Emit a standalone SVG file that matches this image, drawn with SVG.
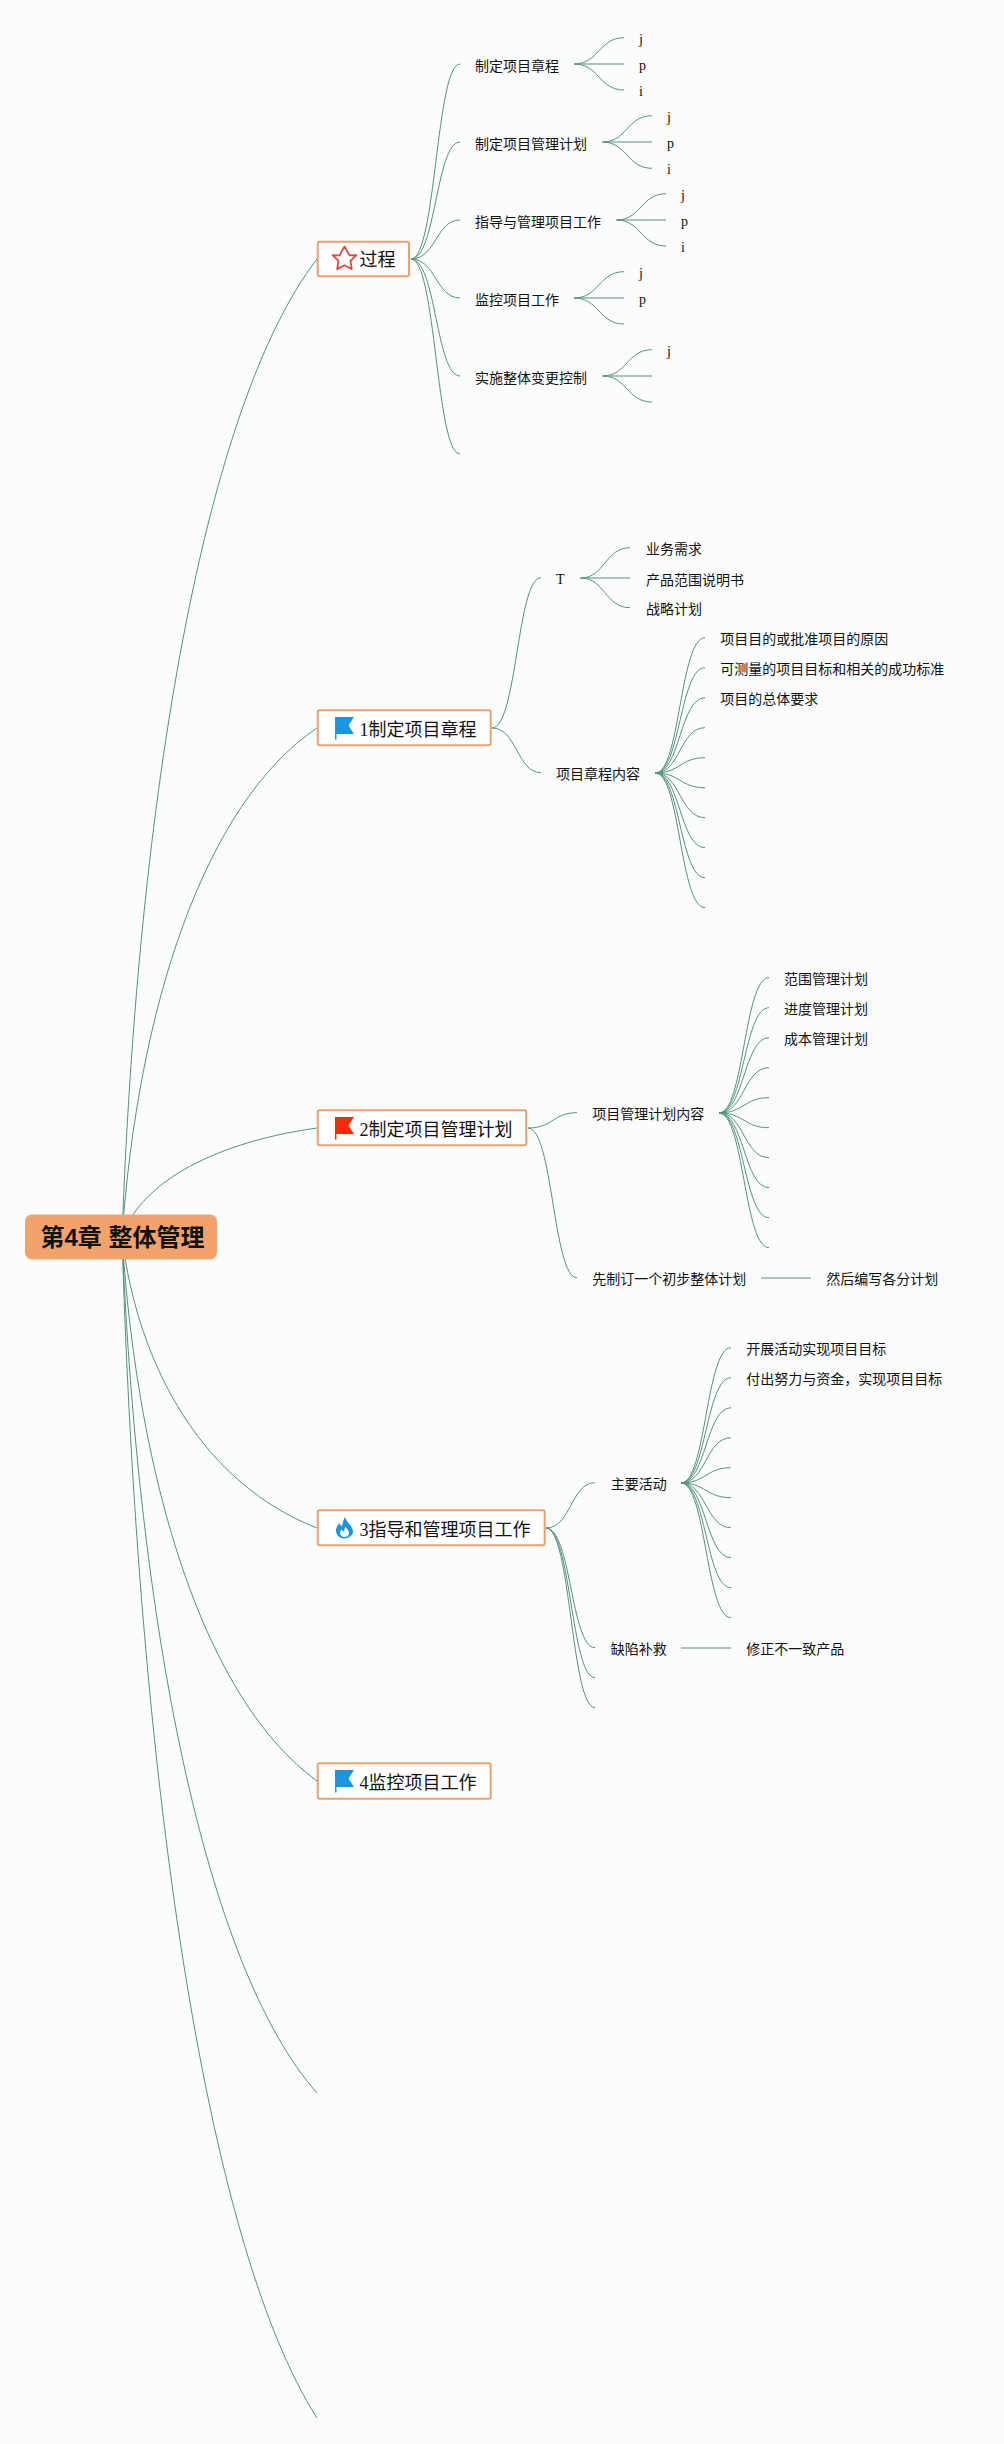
<svg xmlns="http://www.w3.org/2000/svg" width="1004" height="2444" viewBox="0 0 1004 2444">
<style>
.c{fill:none;stroke:#55917f;stroke-width:1}
.box{fill:#fff;stroke:#e6a274;stroke-width:2}
text{font-family:"Liberation Serif","Noto Sans CJK SC",sans-serif;fill:#111}
.t{font-size:14px}
.n{font-size:18px}
.r{font-family:"Liberation Sans","Noto Sans CJK SC",sans-serif;font-size:24px;font-weight:700}
.blue{fill:#1a95e0}
</style>
<defs><path id="flag" d="M0 0H19L13.5 8.500L19 17H1.500V22.500H0Z"/></defs>
<rect width="1004" height="2444" fill="#fbfcfc"/>
<g id="connectors" class="c">
<path d="M122 1237C138 797 204 406 317 259"/>
<path d="M122 1237C138 1008 204 804 317 728"/>
<path d="M122 1237C138 1188 204 1144 317 1128"/>
<path d="M122 1237C138 1368 204 1484 317 1528"/>
<path d="M122 1237C138 1482 204 1699 317 1781"/>
<path d="M122 1237C138 1622 204 1965 317 2093"/>
<path d="M122 1237C138 1768 204 2241 317 2418"/>
<path d="M411 259C436 259 436 64 460 64"/>
<path d="M411 259C436 259 436 142 460 142"/>
<path d="M411 259C436 259 436 220 460 220"/>
<path d="M411 259C436 259 436 298 460 298"/>
<path d="M411 259C436 259 436 376 460 376"/>
<path d="M411 259C436 259 436 454 460 454"/>
<path d="M574 64C599 64 599 37.700 624 37.700"/><path d="M574 64H624"/><path d="M574 64C599 64 599 90 624 90"/>
<path d="M602.500 142C627 142 627 115.700 652 115.700"/><path d="M602.500 142H652"/><path d="M602.500 142C627 142 627 168.300 652 168.300"/>
<path d="M616.500 220C641 220 641 193.700 666 193.700"/><path d="M616.500 220H666"/><path d="M616.500 220C641 220 641 246 666 246"/>
<path d="M574 298C599 298 599 271.700 624 271.700"/><path d="M574 298H624"/><path d="M574 298C599 298 599 324 624 324"/>
<path d="M602.500 376C627 376 627 349.700 652 349.700"/><path d="M602.500 376H652"/><path d="M602.500 376C627 376 627 402 652 402"/>
<path d="M492 728C517 728 517 577.700 541 577.700"/>
<path d="M492 728C517 728 517 772.700 541 772.700"/>
<path d="M580.500 578C605 578 605 547.700 630 547.700"/><path d="M580.500 578H630"/><path d="M580.500 578C605 578 605 607.700 630 607.700"/>
<path d="M655.500 773C680 773 680 637.700 705 637.700"/>
<path d="M655.500 773C680 773 680 667.700 705 667.700"/>
<path d="M655.500 773C680 773 680 697.700 705 697.700"/>
<path d="M655.500 773C680 773 680 727.700 705 727.700"/>
<path d="M655.500 773C680 773 680 757.700 705 757.700"/>
<path d="M655.500 773C680 773 680 787.700 705 787.700"/>
<path d="M655.500 773C680 773 680 817.700 705 817.700"/>
<path d="M655.500 773C680 773 680 847.700 705 847.700"/>
<path d="M655.500 773C680 773 680 877.700 705 877.700"/>
<path d="M655.500 773C680 773 680 907.700 705 907.700"/>
<path d="M528 1128C553 1128 553 1112.700 577 1112.700"/>
<path d="M528 1128C553 1128 553 1277.700 577 1277.700"/>
<path d="M719 1113C744 1113 744 977.700 769 977.700"/>
<path d="M719 1113C744 1113 744 1007.700 769 1007.700"/>
<path d="M719 1113C744 1113 744 1037.700 769 1037.700"/>
<path d="M719 1113C744 1113 744 1067.700 769 1067.700"/>
<path d="M719 1113C744 1113 744 1097.700 769 1097.700"/>
<path d="M719 1113C744 1113 744 1127.700 769 1127.700"/>
<path d="M719 1113C744 1113 744 1157.700 769 1157.700"/>
<path d="M719 1113C744 1113 744 1187.700 769 1187.700"/>
<path d="M719 1113C744 1113 744 1217.700 769 1217.700"/>
<path d="M719 1113C744 1113 744 1247.700 769 1247.700"/>
<path d="M761 1278H811"/>
<path d="M546 1528C571 1528 571 1482.700 595 1482.700"/>
<path d="M546 1528C571 1528 571 1647.700 595 1647.700"/>
<path d="M546 1528C571 1528 571 1677.700 595 1677.700"/>
<path d="M546 1528C571 1528 571 1707.700 595 1707.700"/>
<path d="M681 1483C706 1483 706 1347.700 731 1347.700"/>
<path d="M681 1483C706 1483 706 1377.700 731 1377.700"/>
<path d="M681 1483C706 1483 706 1407.700 731 1407.700"/>
<path d="M681 1483C706 1483 706 1437.700 731 1437.700"/>
<path d="M681 1483C706 1483 706 1467.700 731 1467.700"/>
<path d="M681 1483C706 1483 706 1497.700 731 1497.700"/>
<path d="M681 1483C706 1483 706 1527.700 731 1527.700"/>
<path d="M681 1483C706 1483 706 1557.700 731 1557.700"/>
<path d="M681 1483C706 1483 706 1587.700 731 1587.700"/>
<path d="M681 1483C706 1483 706 1617.700 731 1617.700"/>
<path d="M681 1648H731"/>
</g>
<g id="root"><rect x="25" y="1214.500" width="192" height="45" rx="7" fill="#f4a26c"/><text class="r" x="40.500" y="1246">第4章 整体管理</text></g>
<g id="node-process"><rect class="box" x="317.700" y="241.700" width="91.300" height="34.500" rx="2"/><path d="M344.500 246.500L349.500 255.400L356.400 255.100L350.400 260.900L351.850 269.100L344.500 265.200L337.150 269.100L338.600 260.900L332.600 255.100L339.500 255.400Z" fill="#fff" stroke="#e0483a" stroke-width="1.800" stroke-linejoin="round"/><text class="n" x="359.500" y="266">过程</text></g>
<g id="node-1"><rect class="box" x="317.700" y="710.300" width="173" height="35" rx="2"/><use href="#flag" class="blue" x="335" y="717"/><text class="n" x="359.500" y="736">1制定项目章程</text></g>
<g id="node-2"><rect class="box" x="317.700" y="1110.300" width="208.600" height="35" rx="2"/><use href="#flag" x="335" y="1117" fill="#f52b0c"/><text class="n" x="359.500" y="1136">2制定项目管理计划</text></g>
<g id="node-3"><rect class="box" x="317.700" y="1510.300" width="227" height="35" rx="2"/><path class="blue" d="M345 1517C346 1522 352 1525 353 1531C353.500 1535 349 1538.500 344.500 1538.500C340 1538.500 336 1535 336 1530.500C336 1527 338 1525 339.500 1523C340 1525 341 1526 342 1526C343 1523 343 1520 345 1517Z"/><path d="M345.500 1526.500C346 1529 349 1530 349 1533C349 1535.500 347 1537 344.500 1537C342 1537 340 1535.500 340 1533C340 1531 341 1530 342 1529.500C342.500 1531 343 1531.500 343.500 1531.500C344.500 1530 345 1528 345.500 1526.500Z" fill="#fff"/><text class="n" x="359.500" y="1536">3指导和管理项目工作</text></g>
<g id="node-4"><rect class="box" x="317.700" y="1763.300" width="173" height="35.400" rx="2"/><use href="#flag" class="blue" x="335" y="1770"/><text class="n" x="359.500" y="1789">4监控项目工作</text></g>
<g id="labels-process" class="t">
<text x="475" y="70.500">制定项目章程</text><text x="639" y="43.700">j</text><text x="639" y="70">p</text><text x="639" y="96">i</text>
<text x="475" y="148.500">制定项目管理计划</text><text x="667" y="121.700">j</text><text x="667" y="148">p</text><text x="667" y="174">i</text>
<text x="475" y="226.500">指导与管理项目工作</text><text x="681" y="199.700">j</text><text x="681" y="226">p</text><text x="681" y="252">i</text>
<text x="475" y="304.500">监控项目工作</text><text x="639" y="277.700">j</text><text x="639" y="304">p</text>
<text x="475" y="382.500">实施整体变更控制</text><text x="667" y="355.700">j</text>
</g>
<g id="labels-1" class="t">
<text x="556" y="584">T</text><text x="646" y="554.200">业务需求</text><text x="646" y="584.500">产品范围说明书</text><text x="646" y="614.200">战略计划</text>
<text x="556" y="779.200">项目章程内容</text>
<text x="720.300" y="644.200">项目目的或批准项目的原因</text><text x="720.300" y="674.200">可测量的项目目标和相关的成功标准</text><text x="720.300" y="704.200">项目的总体要求</text>
</g>
<g id="labels-2" class="t">
<text x="592.300" y="1119.200">项目管理计划内容</text><text x="592.300" y="1284.200">先制订一个初步整体计划</text><text x="826.300" y="1284.200">然后编写各分计划</text>
<text x="784" y="984.200">范围管理计划</text><text x="784" y="1014.200">进度管理计划</text><text x="784" y="1044.200">成本管理计划</text>
</g>
<g id="labels-3" class="t">
<text x="610.700" y="1489.200">主要活动</text><text x="610.700" y="1654.200">缺陷补救</text><text x="746.300" y="1654.200">修正不一致产品</text>
<text x="746.300" y="1354.200">开展活动实现项目目标</text><text x="746.300" y="1384.200">付出努力与资金&#xFF0C;实现项目目标</text>
</g>
</svg>
